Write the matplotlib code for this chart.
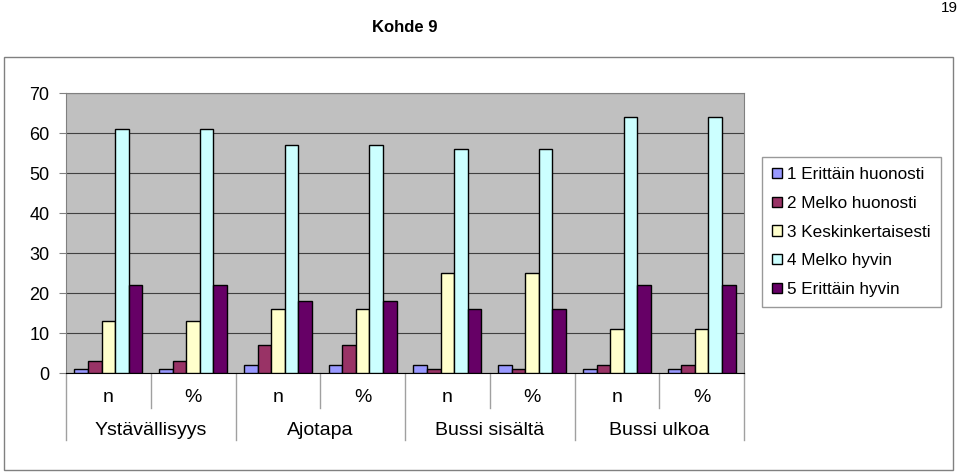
import matplotlib.pyplot as plt
import numpy as np
from matplotlib.patches import Rectangle
from matplotlib.transforms import blended_transform_factory

plt.rcParams["font.family"] = ["Liberation Sans", "DejaVu Sans"]

# data
groups = ["Ystävällisyys", "Ajotapa", "Bussi sisältä", "Bussi ulkoa"]
sub_labels = ["n", "%"]
series_names = ["1 Erittäin huonosti", "2 Melko huonosti", "3 Keskinkertaisesti",
                "4 Melko hyvin", "5 Erittäin hyvin"]
colors = ["#9999FF", "#993366", "#FFFFCC", "#CCFFFF", "#660066"]
s1 = [1, 1, 2, 2, 2, 2, 1, 1]
s2 = [3, 3, 7, 7, 1, 1, 2, 2]
s3 = [13, 13, 16, 16, 25, 25, 11, 11]
s4 = [61, 61, 57, 57, 56, 56, 64, 64]
s5 = [22, 22, 18, 18, 16, 16, 22, 22]
series = [s1, s2, s3, s4, s5]

W, H = 960, 475
fig = plt.figure(figsize=(W / 100, H / 100), dpi=100)

# outer frame
fig.patches.append(Rectangle((4 / W, 1 - 470 / H), 949 / W, 413 / H,
                             transform=fig.transFigure, fill=False,
                             edgecolor="#808080", linewidth=1))
fig.text(405 / W, 1 - 27 / H, "Kohde 9", ha="center", va="center",
         fontsize=12, fontweight="bold")
fig.text(958 / W, 1 - 8 / H, "19", ha="right", va="center", fontsize=11)

ax = fig.add_axes([66 / W, 1 - 373 / H, 678 / W, 280 / H])
ax.set_facecolor("#C0C0C0")

n_cat = len(s1)
x = np.arange(n_cat)
bw = 1 / 6.25
for i, (vals, c, name) in enumerate(zip(series, colors, series_names)):
    ax.bar(x - 2 * bw + i * bw, vals, width=bw, color=c, edgecolor="black",
           linewidth=1, label=name, zorder=3)

ax.set_xlim(-0.5, n_cat - 0.5)
ax.set_ylim(0, 70)
ax.set_yticks(range(0, 71, 10))
ax.yaxis.grid(True, color="#404040", linewidth=0.8, zorder=0)
ax.tick_params(axis="y", labelsize=13, length=5, direction="out", color="#808080", pad=7)
ax.set_xticks([])
for side in ["top", "right", "left"]:
    ax.spines[side].set_color("#808080")
ax.spines["bottom"].set_color("black")

# two-level category labels
tr = blended_transform_factory(ax.transData, ax.transAxes)
for k in range(n_cat):
    ax.text(k, -0.086, sub_labels[k % 2], transform=tr, ha="center", va="center",
            fontsize=14)
for g, name in enumerate(groups):
    ax.text(2 * g + 0.5, -0.207, name, transform=tr, ha="center", va="center",
            fontsize=14)
for k in range(n_cat + 1):
    bottom = -0.239 if k % 2 == 0 else -0.125
    ax.plot([k - 0.5, k - 0.5], [0, bottom], transform=tr, color="#A0A0A0",
            linewidth=1, clip_on=False)

leg = fig.legend(loc="upper left", bbox_to_anchor=(762 / W, 1 - 157 / H),
                 fontsize=12.3, frameon=True, fancybox=False, edgecolor="#808080",
                 handlelength=0.55, handleheight=0.55, handletextpad=0.3,
                 labelspacing=0.8, borderpad=0.6, borderaxespad=0)
leg.get_frame().set_linewidth(1)

fig.savefig("out.png", dpi=100)
